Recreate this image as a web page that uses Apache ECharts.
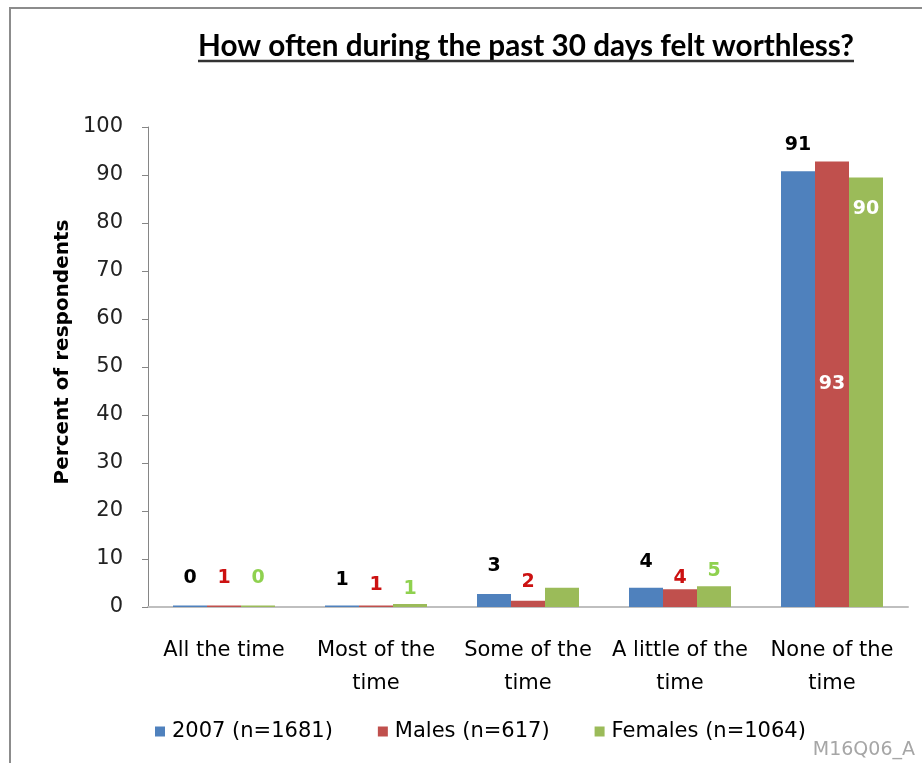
<!DOCTYPE html>
<html lang="en">
<head>
  <meta charset="UTF-8">
  <title>How often during the past 30 days felt worthless?</title>
  <script src="https://cdn.jsdelivr.net/npm/echarts@6/dist/echarts.min.js"></script>
  <style>
    html, body { margin: 0; padding: 0; background: #fff; }
    #main { width: 922px; height: 763px; }
  </style>
</head>
<body>
<div id="main"></div>
<script>
  // data
  var categories = ['All the time', 'Most of the\ntime', 'Some of the\ntime', 'A little of the\ntime', 'None of the\ntime']
  var seriesNames = ['2007 (n=1681)', 'Males (n=617)', 'Females (n=1064)']
  var values2007 = [0.3, 0.3, 2.7, 4.0, 90.8]
  var valuesMales = [0.3, 0.3, 1.3, 3.7, 92.8]
  var valuesFemales = [0.3, 0.6, 4.0, 4.3, 89.5]
  // the printed labels (rounded in the source chart, one missing)
  var labels2007 = ['0', '1', '3', '4', '91']
  var labelsMales = ['1', '1', '2', '4', '93']
  var labelsFemales = ['0', '1', null, '5', '90']

  // label placement: gap in px between bar top and label, or an inside spot
  var place2007 = [18, 16, 18, 16, 17]
  var placeMales = [18, 11, 9, 2, 'inside']
  var placeFemales = [18, 6, 0, 6, 'insideTop']

  var colors = ['#4F81BD', '#C0504D', '#9BBB59']
  var labelColors = ['#000000', '#CC1111', '#8FD14F']
  var font = '"DejaVu Sans", sans-serif'

  function buildData(values, labels, place) {
    return values.map(function (v, i) {
      var lab = { show: labels[i] != null, formatter: labels[i] || '' }
      if (place[i] === 'inside') {
        lab.position = 'inside'
        lab.color = '#fff'
      } else if (place[i] === 'insideTop') {
        lab.position = 'insideTop'
        lab.distance = 22
        lab.color = '#fff'
      } else {
        lab.position = 'top'
        lab.distance = place[i]
      }
      return { value: v, label: lab }
    })
  }

  var valueSets = [values2007, valuesMales, valuesFemales]
  var labelSets = [labels2007, labelsMales, labelsFemales]
  var placeSets = [place2007, placeMales, placeFemales]

  var series = seriesNames.map(function (name, k) {
    return {
      name: name,
      type: 'bar',
      barWidth: 34,
      barGap: '0%',
      itemStyle: { color: colors[k] },
      label: {
        color: labelColors[k],
        fontFamily: font,
        fontWeight: 'bold',
        fontSize: 19
      },
      data: buildData(valueSets[k], labelSets[k], placeSets[k])
    }
  })

  // title is sized so it spans the same width as in the picture
  var title = 'How often during the past 30 days felt worthless?'
  var ctx = document.createElement('canvas').getContext('2d')
  ctx.font = 'bold 20px Lato'
  var titleSize = Math.round(20 * 657 / ctx.measureText(title).width * 10) / 10
  var titleFont = 'bold ' + titleSize + 'px Lato'
  ctx.font = titleFont
  var titleW = ctx.measureText(title).width
  var titleX = 526

  var myChart = echarts.init(document.getElementById('main'))
  var option = {
    backgroundColor: '#fff',
    animation: false,
    textStyle: { fontFamily: font },
    grid: { left: 148, right: 14, top: 127, bottom: 156 },
    legend: {
      data: seriesNames,
      left: 150,
      top: 716,
      itemWidth: 10,
      itemHeight: 10,
      itemGap: 45,
      icon: 'rect',
      textStyle: { fontFamily: font, fontSize: 21, color: '#000', padding: [0, 0, 0, 2] }
    },
    xAxis: {
      type: 'category',
      data: categories,
      axisLine: { lineStyle: { color: '#BFBFBF', width: 2 } },
      axisTick: { show: false },
      axisLabel: {
        color: '#000',
        fontFamily: font,
        fontSize: 21,
        lineHeight: 33,
        margin: 27,
        interval: 0
      }
    },
    yAxis: {
      type: 'value',
      min: 0,
      max: 100,
      interval: 10,
      splitLine: { show: false },
      axisLine: { show: true, lineStyle: { color: '#868686' } },
      axisTick: { show: true, length: 6, lineStyle: { color: '#868686' } },
      axisLabel: { color: '#222', fontFamily: font, fontSize: 21, margin: 25 }
    },
    graphic: [
      {
        type: 'polyline',
        shape: { points: [[10, 763], [10, 8], [922, 8]] },
        style: { stroke: '#8C8C8C', lineWidth: 2, fill: null }
      },
      {
        type: 'text',
        x: titleX,
        y: 61,
        style: { text: title, font: titleFont, fill: '#000', align: 'center', verticalAlign: 'bottom' }
      },
      {
        type: 'line',
        shape: { x1: titleX - titleW / 2, y1: 61, x2: titleX + titleW / 2, y2: 61 },
        style: { stroke: '#333', lineWidth: 2.5 }
      },
      {
        type: 'text',
        x: 63,
        y: 352,
        rotation: Math.PI / 2,
        style: {
          text: 'Percent of respondents',
          font: 'bold 20px "DejaVu Sans"',
          fill: '#000',
          align: 'center',
          verticalAlign: 'middle'
        }
      },
      {
        type: 'text',
        right: 7,
        top: 741,
        style: { text: 'M16Q06_A', font: '19px "DejaVu Sans"', fill: '#A6A6A6' }
      }
    ],
    series: series
  }
  myChart.setOption(option)
</script>
</body>
</html>
